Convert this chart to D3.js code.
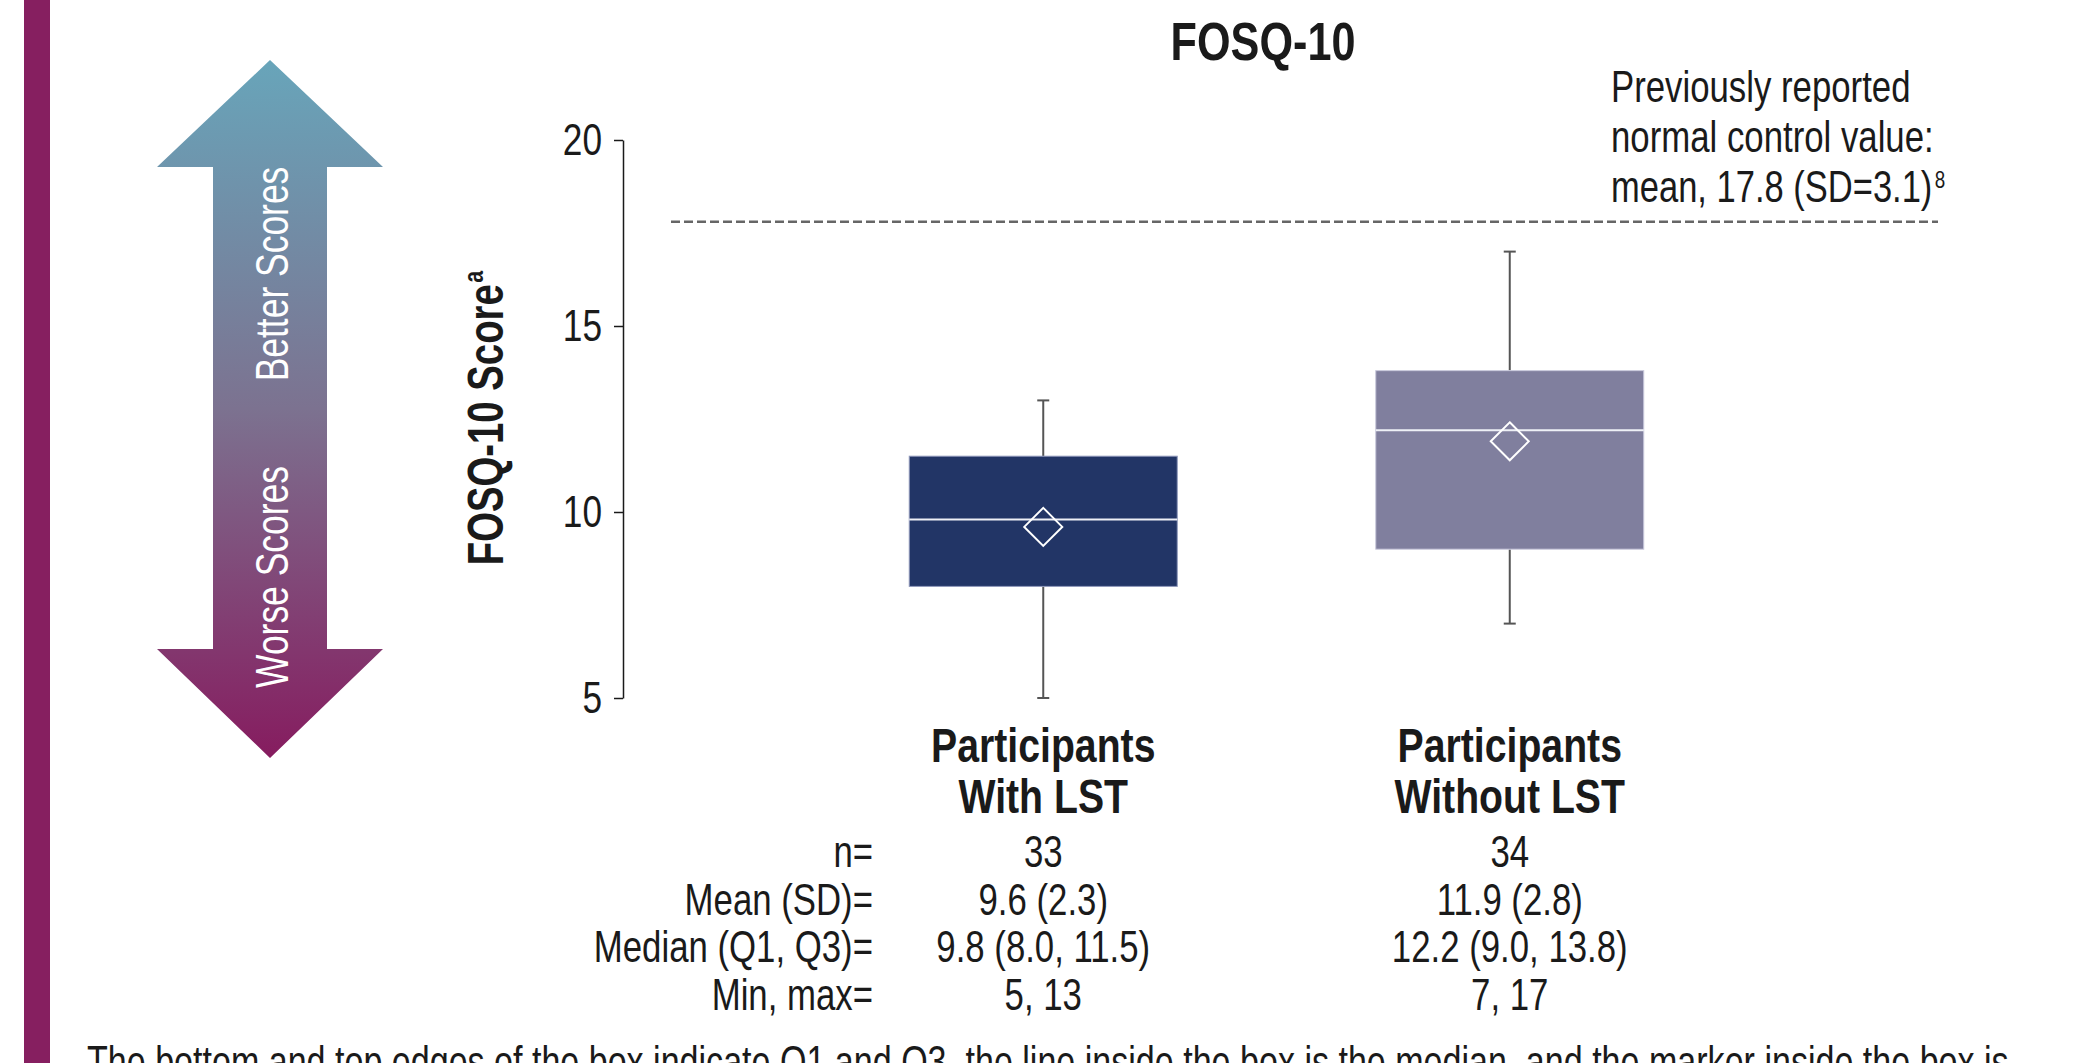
<!DOCTYPE html>
<html>
<head>
<meta charset="utf-8">
<script src="https://cdn.jsdelivr.net/npm/d3@7"></script>
<style>
  html, body { margin: 0; padding: 0; background: #ffffff; overflow: hidden; }
  svg { display: block; }
  text { font-family: "Liberation Sans", Arial, Helvetica, sans-serif; }
</style>
</head>
<body>
<script>
// ---------------- DATA ----------------
const groups = ["Participants With LST", "Participants Without LST"];
const groupLine1 = ["Participants", "Participants"];
const groupLine2 = ["With LST", "Without LST"];
const nValues = [33, 34];
const meanValues = [9.6, 11.9];
const sdValues = [2.3, 2.8];
const medianValues = [9.8, 12.2];
const q1Values = [8.0, 9.0];
const q3Values = [11.5, 13.8];
const minVals = [5, 7];
const maxVals = [13, 17];
const boxColors = ["#223566", "#807f9e"];
const boxStrokes = ["#8f98bb", "#c9c9dc"];
const yTicks = [5, 10, 15, 20];
const controlMean = 17.8;
const controlSD = 3.1;
const rowLabels = ["n=", "Mean (SD)=", "Median (Q1, Q3)=", "Min, max="];

// ---------------- SETUP ----------------
const W = 2084, H = 1063;
const svg = d3.select("body").append("svg").attr("width", W).attr("height", H);

const y = d3.scaleLinear().domain([5, 20]).range([698, 140]);
const x = d3.scalePoint().domain(groups).range([810, 1743]).padding(0.5);
const boxW = 268;

// left decorative bar
svg.append("rect").attr("x", 24).attr("y", 0).attr("width", 26).attr("height", H).attr("fill", "#861f60");

// gradient arrow
const defs = svg.append("defs");
const grad = defs.append("linearGradient").attr("id", "arrowGrad")
  .attr("x1", 0).attr("y1", 0).attr("x2", 0).attr("y2", 1);
grad.append("stop").attr("offset", "0%").attr("stop-color", "#68a5ba");
grad.append("stop").attr("offset", "50%").attr("stop-color", "#7c7290");
grad.append("stop").attr("offset", "100%").attr("stop-color", "#861c5f");

const arrowPts = [[270,60],[383,167],[327,167],[327,649],[383,649],[270,758],[157,649],[213,649],[213,167],[157,167]];
svg.append("path").attr("d", d3.line()(arrowPts) + "Z").attr("fill", "url(#arrowGrad)");

svg.append("text").attr("data-k", 0.77).attr("transform", "translate(288,274) rotate(-90)")
  .attr("text-anchor", "middle").attr("font-size", 46).attr("fill", "#ffffff").text("Better Scores");
svg.append("text").attr("data-k", 0.77).attr("transform", "translate(288,577) rotate(-90)")
  .attr("text-anchor", "middle").attr("font-size", 46).attr("fill", "#ffffff").text("Worse Scores");

// title
svg.append("text").attr("data-k", 0.80).attr("x", 1263).attr("y", 60).attr("text-anchor", "middle")
  .attr("font-size", 54).attr("font-weight", "bold").attr("fill", "#1a1a1a").text("FOSQ-10");

// y axis
const axisG = svg.append("g").attr("transform", "translate(623,0)")
  .call(d3.axisLeft(y).tickValues(yTicks).tickSize(9).tickSizeOuter(0).tickPadding(12));
axisG.select(".domain").attr("stroke", "#1a1a1a").attr("stroke-width", 1.5);
axisG.selectAll(".tick line").attr("stroke", "#1a1a1a").attr("stroke-width", 1.5);
axisG.selectAll(".tick text").attr("font-size", 44).attr("fill", "#1a1a1a").attr("data-k", 0.80)
  .style("font-family", "'Liberation Sans', Arial, sans-serif");

// y label
const yl = svg.append("text").attr("data-k", 0.77).attr("transform", "translate(503,418) rotate(-90)")
  .attr("text-anchor", "middle").attr("font-size", 50).attr("font-weight", "bold").attr("fill", "#1a1a1a");
yl.append("tspan").text("FOSQ-10 Score");
yl.append("tspan").attr("font-size", 28).attr("dx", 2).attr("dy", -20).text("a");

// control dashed line
svg.append("line").attr("x1", 671).attr("x2", 1938).attr("y1", y(controlMean)).attr("y2", y(controlMean))
  .attr("stroke", "#666666").attr("stroke-width", 2.5).attr("stroke-dasharray", "9,4");

// annotation
const annLines = ["Previously reported", "normal control value:"];
annLines.forEach((t, i) => {
  svg.append("text").attr("data-k", 0.79).attr("x", 1611).attr("y", 102 + i * 50)
    .attr("font-size", 44).attr("fill", "#1a1a1a").text(t);
});
const ann3 = svg.append("text").attr("data-k", 0.79).attr("x", 1611).attr("y", 202)
  .attr("font-size", 44).attr("fill", "#1a1a1a");
ann3.append("tspan").text(`mean, ${controlMean.toFixed(1)} (SD=${controlSD.toFixed(1)})`);
ann3.append("tspan").attr("font-size", 24).attr("dx", 3).attr("dy", -14).text("8");

// boxes
const data = groups.map((g, i) => ({
  g, min: minVals[i], q1: q1Values[i], med: medianValues[i], q3: q3Values[i], max: maxVals[i],
  mean: meanValues[i], fill: boxColors[i], stroke: boxStrokes[i]
}));

const bg = svg.selectAll(".box").data(data).enter().append("g").attr("class", "box");
bg.append("line").attr("x1", d => x(d.g)).attr("x2", d => x(d.g))
  .attr("y1", d => y(d.q3)).attr("y2", d => y(d.max)).attr("stroke", "#555").attr("stroke-width", 2);
bg.append("line").attr("x1", d => x(d.g)).attr("x2", d => x(d.g))
  .attr("y1", d => y(d.q1)).attr("y2", d => y(d.min)).attr("stroke", "#555").attr("stroke-width", 2);
bg.append("line").attr("x1", d => x(d.g) - 6).attr("x2", d => x(d.g) + 6)
  .attr("y1", d => y(d.max)).attr("y2", d => y(d.max)).attr("stroke", "#555").attr("stroke-width", 2);
bg.append("line").attr("x1", d => x(d.g) - 6).attr("x2", d => x(d.g) + 6)
  .attr("y1", d => y(d.min)).attr("y2", d => y(d.min)).attr("stroke", "#555").attr("stroke-width", 2);
bg.append("rect").attr("x", d => x(d.g) - boxW / 2).attr("width", boxW)
  .attr("y", d => y(d.q3)).attr("height", d => y(d.q1) - y(d.q3))
  .attr("fill", d => d.fill).attr("stroke", d => d.stroke).attr("stroke-width", 1);
bg.append("line").attr("x1", d => x(d.g) - boxW / 2).attr("x2", d => x(d.g) + boxW / 2)
  .attr("y1", d => y(d.med)).attr("y2", d => y(d.med)).attr("stroke", "#eef0f6").attr("stroke-width", 2);
bg.append("path").attr("d", d => {
  const cx = x(d.g), cy = y(d.mean), r = 19;
  return `M${cx},${cy - r}L${cx + r},${cy}L${cx},${cy + r}L${cx - r},${cy}Z`;
}).attr("fill", "none").attr("stroke", "#ffffff").attr("stroke-width", 2);

// category labels
groups.forEach((g, i) => {
  svg.append("text").attr("data-k", 0.80).attr("x", x(g)).attr("y", 762).attr("text-anchor", "middle")
    .attr("font-size", 49).attr("font-weight", "bold").attr("fill", "#1a1a1a").text(groupLine1[i]);
  svg.append("text").attr("data-k", 0.80).attr("x", x(g)).attr("y", 813).attr("text-anchor", "middle")
    .attr("font-size", 49).attr("font-weight", "bold").attr("fill", "#1a1a1a").text(groupLine2[i]);
});

// summary table
const rowY = [867, 915, 962, 1010];
rowLabels.forEach((lab, r) => {
  svg.append("text").attr("data-k", 0.79).attr("x", 873).attr("y", rowY[r]).attr("text-anchor", "end")
    .attr("font-size", 44).attr("fill", "#1a1a1a").text(lab);
});
groups.forEach((g, i) => {
  const vals = [
    `${nValues[i]}`,
    `${meanValues[i].toFixed(1)} (${sdValues[i].toFixed(1)})`,
    `${medianValues[i].toFixed(1)} (${q1Values[i].toFixed(1)}, ${q3Values[i].toFixed(1)})`,
    `${minVals[i]}, ${maxVals[i]}`
  ];
  vals.forEach((v, r) => {
    svg.append("text").attr("data-k", 0.79).attr("x", x(g)).attr("y", rowY[r]).attr("text-anchor", "middle")
      .attr("font-size", 44).attr("fill", "#1a1a1a").text(v);
  });
});

// footnote (cut off at bottom edge, as in the original)
svg.append("text").attr("data-k", 0.774).attr("x", 87).attr("y", 1077).attr("font-size", 44).attr("fill", "#1a1a1a")
  .text("The bottom and top edges of the box indicate Q1 and Q3, the line inside the box is the median, and the marker inside the box is");

// condense all text horizontally to mimic a condensed typeface
svg.selectAll("text").each(function () {
  const k = +(this.getAttribute("data-k") || 0.8);
  const L = this.getComputedTextLength();
  this.setAttribute("textLength", (L * k).toFixed(1));
  this.setAttribute("lengthAdjust", "spacingAndGlyphs");
});
</script>
</body>
</html>
